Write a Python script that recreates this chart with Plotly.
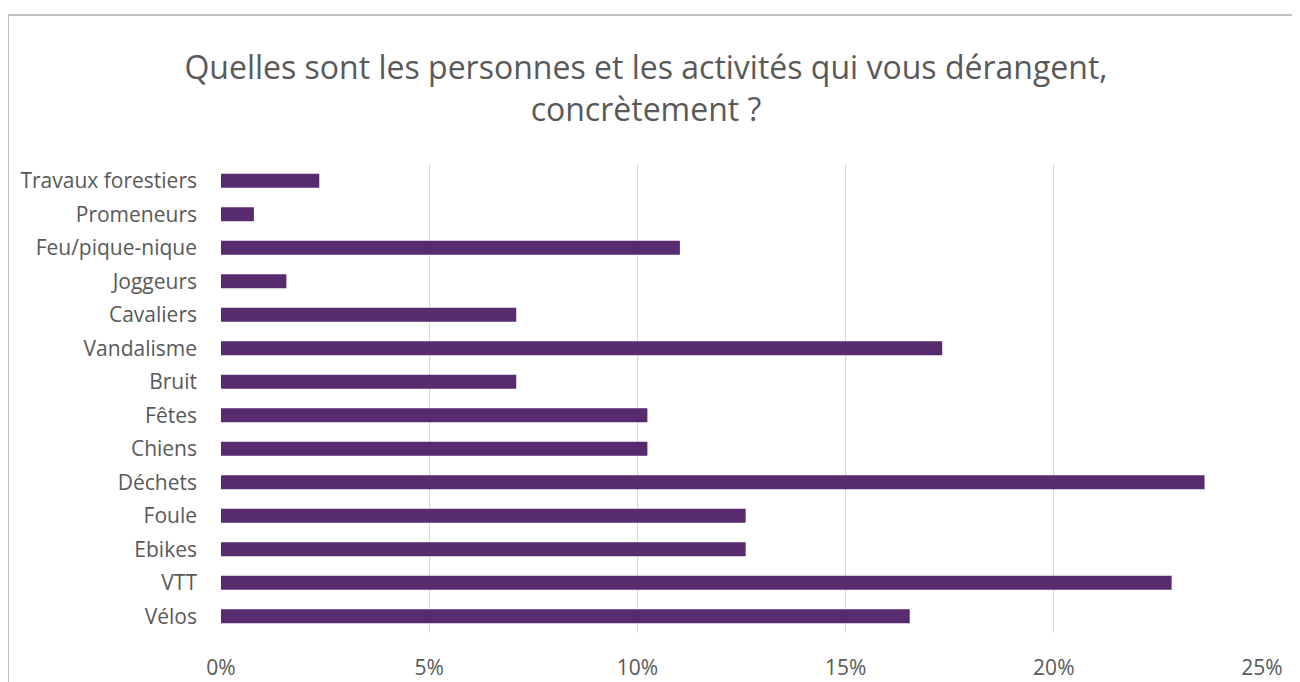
import plotly.graph_objects as go

categories = ["Vélos", "VTT", "Ebikes", "Foule", "Déchets", "Chiens", "Fêtes",
              "Bruit", "Vandalisme", "Cavaliers", "Joggeurs", "Feu/pique-nique",
              "Promeneurs", "Travaux forestiers"]
values = [0.1654, 0.2283, 0.1260, 0.1260, 0.2362, 0.1024, 0.1024,
          0.0709, 0.1732, 0.0709, 0.0157, 0.1102, 0.0079, 0.0236]
x_ticks = [0, 0.05, 0.10, 0.15, 0.20, 0.25]
x_tick_labels = ["0%", "5%", "10%", "15%", "20%", "25%"]
title_text = "Quelles sont les personnes et les activités qui vous dérangent,<br>concrètement ?"

FONT = "Open Sans, Calibri, Carlito, sans-serif"
GREY = "#595959"

fig = go.Figure(go.Bar(
    x=values, y=categories, orientation="h",
    marker=dict(color="#582A6F", line=dict(width=0)),
    width=0.42,
))

# page body has an 8px margin, so the figure is laid out 8px smaller
OFF = 8
W, H = 1300 - OFF, 682 - OFF
ml, mr, mt, mb = 221 - OFF, 38, 164 - OFF, 49
pw, ph = W - ml - mr, H - mt - mb

def px_x(p):
    return (p - OFF - ml) / pw

def px_y(p):
    return (H - mb - (p - OFF)) / ph

fig.update_layout(
    width=W, height=H,
    margin=dict(l=ml, r=mr, t=mt, b=mb),
    paper_bgcolor="white", plot_bgcolor="white",
    showlegend=False,
    title=dict(text=title_text, x=(646 - OFF) / W, xref="container", xanchor="center",
               y=1 - 71 / H, yanchor="middle",
               font=dict(family=FONT, size=32, color=GREY)),
    xaxis=dict(range=[0, 0.25], tickvals=x_ticks, ticktext=x_tick_labels,
               showgrid=True, gridcolor="#D9D9D9", gridwidth=1,
               zeroline=False, showline=False, ticks="",
               ticklabelstandoff=20, automargin=False,
               tickfont=dict(family=FONT, size=21, color=GREY)),
    yaxis=dict(categoryorder="array", categoryarray=categories,
               range=[-0.5, len(categories) - 0.5],
               showgrid=False, zeroline=False, ticks="",
               showline=False, ticklabelstandoff=23, automargin=False,
               tickfont=dict(family=FONT, size=21, color=GREY)),
    shapes=[
        dict(type="line", xref="paper", yref="paper",
             x0=px_x(8), x1=px_x(1310), y0=px_y(15), y1=px_y(15),
             line=dict(color="#BFBFBF", width=2)),
        dict(type="line", xref="paper", yref="paper",
             x0=px_x(8), x1=px_x(8), y0=px_y(15), y1=px_y(700),
             line=dict(color="#BFBFBF", width=2)),
    ],
)

fig.write_html("out.html")
